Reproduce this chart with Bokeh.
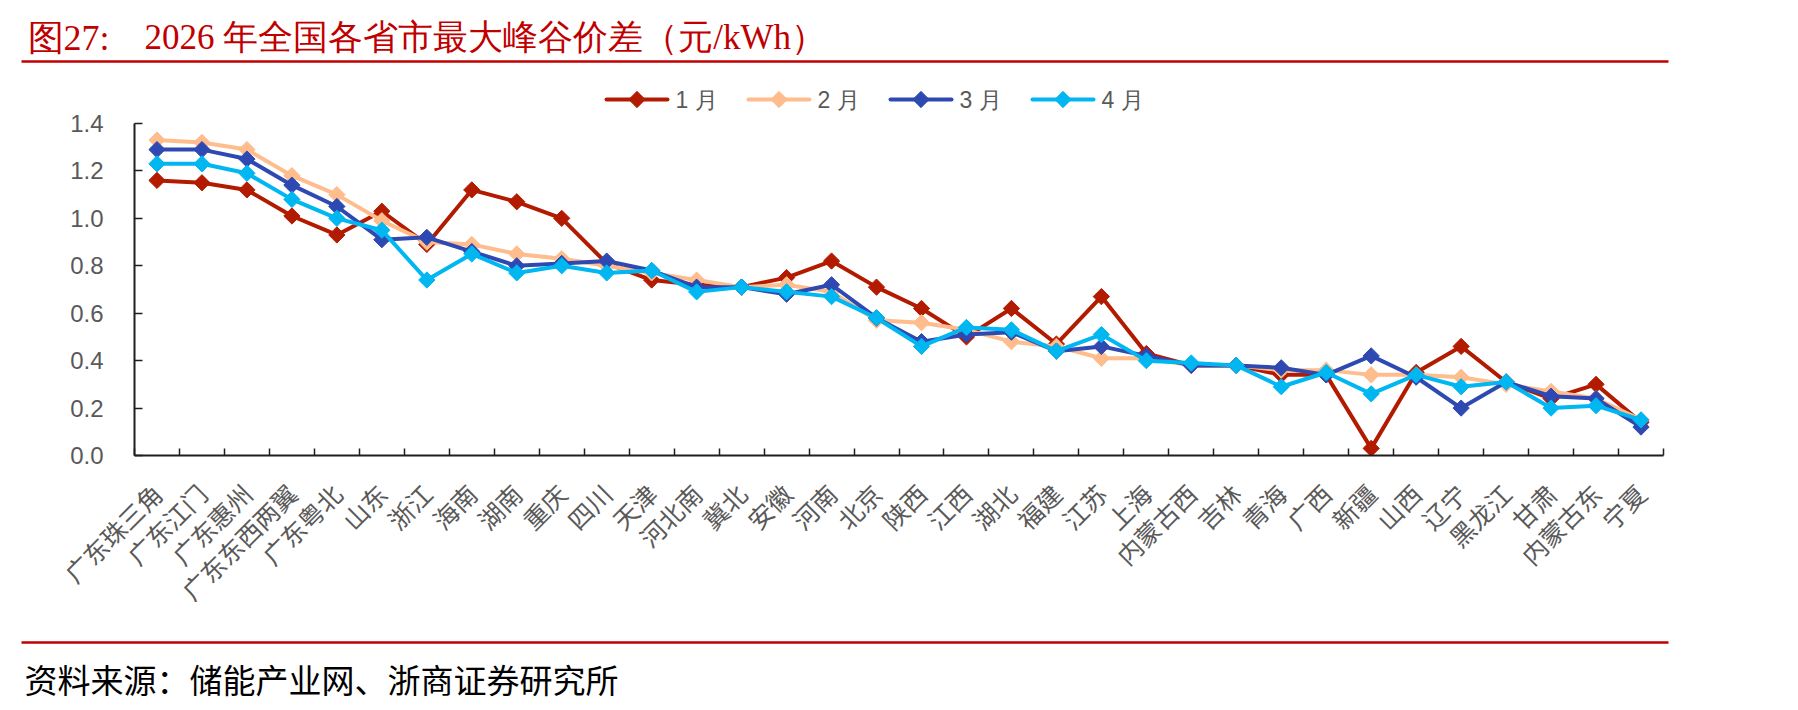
import numpy as np
from bokeh.plotting import figure
from bokeh.models import (Range1d, FixedTicker, LinearAxis, PrintfTickFormatter,
                          ColumnDataSource)
from bokeh.layouts import column
from bokeh.embed import file_html
from bokeh.resources import INLINE
from bokeh.core.properties import value

# ---- data -------------------------------------------------------------
provinces = ["广东珠三角", "广东江门", "广东惠州", "广东东西两翼", "广东粤北", "山东", "浙江",
             "海南", "湖南", "重庆", "四川", "天津", "河北南", "冀北", "安徽", "河南", "北京",
             "陕西", "江西", "湖北", "福建", "江苏", "上海", "内蒙古西", "吉林", "青海", "广西",
             "新疆", "山西", "辽宁", "黑龙江", "甘肃", "内蒙古东", "宁夏"]

jan = [1.16, 1.15, 1.12, 1.01, 0.93, 1.03, 0.89, 1.12, 1.07, 1.00, 0.81, 0.74, 0.72, 0.71,
       0.75, 0.82, 0.71, 0.62, 0.50, 0.62, 0.47, 0.67, 0.43, 0.38, 0.38, 0.34, 0.34, 0.03,
       0.35, 0.46, 0.31, 0.24, 0.30, 0.14]
feb = [1.33, 1.32, 1.29, 1.18, 1.10, 0.99, 0.90, 0.89, 0.85, 0.83, 0.80, 0.77, 0.74, 0.71,
       0.72, 0.69, 0.57, 0.56, 0.53, 0.48, 0.46, 0.41, 0.41, 0.38, 0.38, 0.36, 0.36, 0.34,
       0.34, 0.33, 0.30, 0.27, 0.24, 0.15]
mar = [1.29, 1.29, 1.25, 1.14, 1.05, 0.91, 0.92, 0.86, 0.80, 0.81, 0.82, 0.78, 0.71, 0.71,
       0.68, 0.72, 0.58, 0.48, 0.51, 0.52, 0.44, 0.46, 0.42, 0.38, 0.38, 0.37, 0.34, 0.42,
       0.33, 0.20, 0.31, 0.25, 0.24, 0.12]
apr = [1.23, 1.23, 1.19, 1.08, 1.00, 0.95, 0.74, 0.85, 0.77, 0.80, 0.77, 0.78, 0.69, 0.71,
       0.69, 0.67, 0.58, 0.46, 0.54, 0.53, 0.44, 0.51, 0.40, 0.39, 0.38, 0.29, 0.35, 0.26,
       0.34, 0.29, 0.31, 0.20, 0.21, 0.15]

series_names = ["1 月", "2 月", "3 月", "4 月"]
y_ticks = [0.0, 0.2, 0.4, 0.6, 0.8, 1.0, 1.2, 1.4]

title_prefix = "图27:"
title_text = "2026 年全国各省市最大峰谷价差（元/kWh）"
source_text = "资料来源：储能产业网、浙商证券研究所"

# ---- styling ----------------------------------------------------------
RED = "#C00000"
series_colors = ["#B31B00", "#FFBC8C", "#2E49B2", "#00B7F1"]
TICK_GRAY = "#595959"
AXIS_COLOR = "#1F1F1F"
CJK = "Noto Sans CJK SC"
LINE_W = 4
MARK_SIZE = 11.5

W = 1798
HEAD_H = 72
MAIN_H = 558
FOOT_H = 80

# main panel geometry in pixels (canvas of the main panel)
FRAME_L, FRAME_R = 134, 1663
AXIS_TOP_PX, AXIS_ZERO_PX = 51, 383          # where 1.4 and 0.0 sit
BORDER_BOTTOM = MAIN_H - AXIS_ZERO_PX

# legend key geometry (pixels in the main panel canvas)
KEY_X0, KEY_STEP, KEY_W, KEY_GAP, KEY_Y = 606, 142, 61, 8, 27


def unaligned(f):
    # keep each panel's frame independent inside the column
    if "frame_align" in f.properties():
        f.frame_align = False
    return f


def blank_panel(height):
    f = figure(width=W, height=height, x_range=Range1d(0, W), y_range=Range1d(height, 0),
               x_axis_type=None, y_axis_type=None, toolbar_location=None,
               output_backend="svg", min_border=0, outline_line_color=None)
    f.background_fill_color = "white"
    f.border_fill_color = "white"
    return unaligned(f)


def add_series(fig, source, col):
    """Line with rotated-square markers, sharing one source."""
    lr = fig.line("x", "y", source=source, line_color=col, line_width=LINE_W,
                  line_join="round")
    sr = fig.scatter("x", "y", source=source, marker="square", angle=np.pi / 4,
                     size=MARK_SIZE, fill_color=col, line_color=col, line_width=1)
    return lr, sr


# ---- heading and rule -------------------------------------------------
head = blank_panel(HEAD_H)
head.text(x=[27], y=[37], text=[title_prefix], text_font=value("Liberation Serif"),
          text_font_size="36px", text_color=RED, text_baseline="alphabetic")
head.text(x=[144], y=[37], text=[title_text], text_font=value("Liberation Serif"),
          text_font_size="35px", text_color=RED, text_baseline="alphabetic")
head.segment(x0=[21], y0=[61], x1=[1668], y1=[61], line_color=RED, line_width=2.5)

# ---- main chart -------------------------------------------------------
n = len(provinces)
xc = np.arange(n) + 0.5
y_max = y_ticks[-1]
units_per_px = y_max / (AXIS_ZERO_PX - AXIS_TOP_PX)
y_top = AXIS_ZERO_PX * units_per_px           # frame reaches the panel top; axis stops at 1.4

p = figure(width=W, height=MAIN_H, x_range=Range1d(0, n), y_range=Range1d(0, y_top),
           x_axis_type=None, y_axis_type=None, toolbar_location=None, output_backend="svg",
           min_border_left=FRAME_L, min_border_right=W - FRAME_R, min_border_top=0,
           min_border_bottom=BORDER_BOTTOM, outline_line_color=None)
p.background_fill_color = "white"
p.border_fill_color = "white"
unaligned(p)

xaxis = LinearAxis(
    ticker=FixedTicker(ticks=[float(v) for v in xc], minor_ticks=list(range(n + 1))),
    major_label_overrides={float(v): name for v, name in zip(xc, provinces)},
    major_label_orientation=np.pi / 4,
    major_label_standoff=33,
    major_label_text_font=CJK,
    major_label_text_font_size="25px",
    major_label_text_color=TICK_GRAY,
    major_tick_in=0, major_tick_out=0,
    minor_tick_in=7, minor_tick_out=0,
    minor_tick_line_color=AXIS_COLOR, minor_tick_line_width=1.5,
    axis_line_color=AXIS_COLOR, axis_line_width=2,
)
p.add_layout(xaxis, "below")

yaxis = LinearAxis(
    bounds=(0, y_max),
    ticker=FixedTicker(ticks=y_ticks, minor_ticks=[]),
    formatter=PrintfTickFormatter(format="%.1f"),
    major_label_standoff=31,
    major_label_text_font="Liberation Sans",
    major_label_text_font_size="24px",
    major_label_text_color=TICK_GRAY,
    major_tick_in=8, major_tick_out=0,
    major_tick_line_color=AXIS_COLOR, major_tick_line_width=1.5,
    minor_tick_line_color=None,
    axis_line_color=AXIS_COLOR, axis_line_width=2,
)
p.add_layout(yaxis, "left")

for vals, col in zip([jan, feb, mar, apr], series_colors):
    add_series(p, ColumnDataSource(dict(x=xc, y=vals)), col)


# legend above the axes: short line with the series marker, then the month
def px_x(px):
    return (px - FRAME_L) * n / (FRAME_R - FRAME_L)


def px_y(py):
    return (AXIS_ZERO_PX - py) * units_per_px


for i, (name, col) in enumerate(zip(series_names, series_colors)):
    x0 = KEY_X0 + i * KEY_STEP
    key = ColumnDataSource(dict(x=[px_x(x0), px_x(x0 + KEY_W)], y=[px_y(KEY_Y)] * 2))
    p.line("x", "y", source=key, line_color=col, line_width=LINE_W, line_cap="round")
    p.scatter([px_x(x0 + KEY_W / 2)], [px_y(KEY_Y)], marker="square", angle=np.pi / 4,
              size=MARK_SIZE, fill_color=col, line_color=col, line_width=1)
    p.text(x=[px_x(x0 + KEY_W + KEY_GAP)], y=[px_y(KEY_Y)], text=[name],
           text_font=value("Liberation Sans"), text_font_size="23px",
           text_color=TICK_GRAY, text_baseline="middle")

# ---- source note with rule --------------------------------------------
foot = blank_panel(FOOT_H)
foot.segment(x0=[21], y0=[12], x1=[1668], y1=[12], line_color=RED, line_width=2.5)
foot.text(x=[24], y=[48], text=[source_text], text_font=value(CJK),
          text_font_size="33px", text_color="black", text_baseline="middle")

layout = column(head, p, foot, spacing=0)
open("out.html", "w").write(file_html(layout, INLINE))
